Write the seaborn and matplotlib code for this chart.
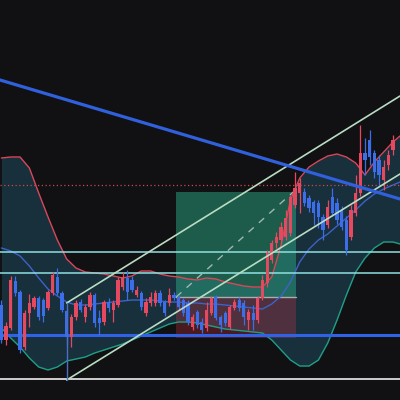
import numpy as np
import pandas as pd
import matplotlib
matplotlib.use("Agg")
import matplotlib.pyplot as plt
import seaborn as sns

# ---- candle data (price units) ----
opens = [95, 60, 72, 119, 108, 53, 87, 93, 102, 100, 92, 107, 123, 107, 89, 63, 83, 98, 83, 93,
         105, 82, 78, 98, 90, 95, 113, 122, 120, 105, 107, 87, 97, 97, 107, 98, 97, 105, 103, 100,
         97, 73, 88, 78, 72, 87, 103, 83, 87, 73, 92, 100, 97, 80, 87, 80, 102, 117, 140, 157,
         160, 163, 167, 195, 207, 208, 202, 198, 197, 183, 175, 203, 197, 190, 180, 163, 187, 207, 247, 260,
         247, 240, 220, 235, 250]
closes = [60, 74, 120, 107, 50, 87, 97, 102, 83, 84, 108, 125, 107, 90, 63, 83, 97, 90, 93, 105,
          77, 77, 98, 92, 97, 120, 123, 108, 110, 110, 93, 98, 103, 107, 97, 87, 105, 102, 93, 87,
          78, 83, 75, 70, 90, 102, 82, 75, 77, 93, 98, 92, 83, 88, 80, 102, 120, 147, 157, 163,
          173, 182, 203, 212, 217, 197, 192, 187, 183, 170, 193, 187, 180, 173, 150, 190, 207, 247, 240, 243,
          228, 225, 233, 245, 260]
highs = [100, 78, 124, 124, 110, 90, 106, 104, 104, 102, 110, 128, 132, 109, 91, 86, 100, 101, 96, 108,
         107, 90, 100, 102, 100, 123, 128, 130, 124, 114, 109, 102, 108, 110, 110, 100, 112, 108, 105, 102,
         100, 86, 90, 82, 98, 104, 105, 85, 89, 95, 101, 103, 100, 91, 95, 104, 125, 150, 160, 168,
         178, 190, 205, 228, 222, 212, 205, 200, 200, 186, 200, 212, 202, 194, 184, 195, 225, 275, 262, 270,
         250, 245, 240, 250, 265]
lows = [57, 55, 70, 104, 47, 50, 73, 91, 80, 78, 90, 105, 105, 88, 55, 53, 80, 88, 78, 90,
        73, 65, 75, 88, 78, 93, 110, 100, 108, 103, 90, 84, 94, 94, 94, 84, 94, 100, 90, 84,
        75, 70, 72, 67, 69, 85, 80, 68, 74, 71, 90, 89, 75, 70, 70, 77, 100, 113, 137, 152,
        157, 160, 164, 192, 187, 194, 188, 175, 172, 160, 172, 184, 176, 170, 145, 160, 184, 204, 225, 235,
        222, 215, 210, 230, 245]

# ---- Bollinger bands ----
band_idx = [0, 2, 4, 6, 8, 10, 12, 14, 16, 18, 20, 22, 24, 26, 28, 30, 32, 34, 36, 38, 40, 42,
            44, 46, 48, 50, 52, 54, 56, 58, 60, 62, 64, 66, 68, 70, 72, 74, 76, 78, 80, 82, 84, 85.5]
band_upper = [242, 243, 243, 232, 207, 183, 160, 141, 132, 128, 127, 126, 124, 122, 124, 129, 129, 126, 124, 123,
              121, 120, 122, 121, 118, 116, 114, 113, 113, 123, 155, 200, 222, 233, 239, 244, 246, 243, 237, 225,
              238, 248, 258, 264]
band_mid = [152, 149, 144, 134, 122, 111, 104, 98, 95, 95, 96, 97, 98, 99, 100, 100, 100, 99, 98, 98,
            97, 97, 96, 96, 95, 94, 93, 92, 91, 96, 104, 118, 138, 151, 160, 166, 174, 182, 190, 199,
            206, 211, 215, 218]
band_lower = [72, 62, 53, 42, 33, 30, 33, 39, 41, 43, 47, 50, 53, 56, 60, 64, 68, 72, 76, 78,
              78, 77, 75, 73, 71, 70, 69, 68, 67, 60, 50, 40, 34, 34, 40, 57, 80, 105, 128, 142,
              152, 158, 158, 156]

# ---- drawings ----
trend_x = [-0.3, 85.5]
trend_y = [320, 201]
chan_up_x = [14.0, 85.5]
chan_up_y = [97, 304]
chan_lo_x = [14.0, 85.5]
chan_lo_y = [20, 226]
hlines_cyan = [148, 127]
hline_blue = 65
hline_gray = 21
hline_dotted = 215
box_x = [37.5, 63.2]
box_entry = 103
box_target = 208
box_stop = 62

bg = "#111113"
up_col = "#e5485f"
dn_col = "#3b6ee8"

sns.set_theme(style="dark", rc={"axes.facecolor": bg, "figure.facecolor": bg})
fig = plt.figure(figsize=(4, 4), dpi=100)
ax = fig.add_axes([0, 0, 1, 1])
ax.set_facecolor(bg)

# band fill
ax.fill_between(band_idx, band_lower, band_upper, color="#1b3a4a", alpha=0.75, lw=0, zorder=1)
bands = pd.DataFrame({"i": band_idx, "upper": band_upper, "mid": band_mid, "lower": band_lower})
kw = dict(lw=1.0, ax=ax, zorder=3, solid_joinstyle="round")
sns.lineplot(data=bands, x="i", y="upper", color="#d9475a", **kw)
sns.lineplot(data=bands, x="i", y="mid", color="#3d62c8", **kw)
sns.lineplot(data=bands, x="i", y="lower", color="#1f9e86", **kw)

# position box
ax.fill_between(box_x, box_entry, box_target, color="#2aa884", alpha=0.5, lw=0, zorder=2)
ax.fill_between(box_x, box_stop, box_entry, color="#f23645", alpha=0.25, lw=0, zorder=2)
ax.plot(box_x, [box_entry, box_entry], color="#c9c9c9", lw=1.0, alpha=0.8, zorder=2.5)
ax.plot([box_x[0], box_x[1] - 0.6], [box_entry, box_target], color="#9fb8ae", lw=1.0,
        ls=(0, (5, 5)), zorder=2.5)

# horizontal levels
for h in hlines_cyan:
    ax.axhline(h, color="#8fe0e0", lw=1.1, zorder=4)
ax.axhline(hline_blue, color="#2f62e6", lw=2.2, zorder=4)
ax.axhline(hline_gray, color="#cfcfcf", lw=1.4, zorder=4)
ax.axhline(hline_dotted, color="#c94a4a", lw=0.9, ls=(0, (1, 2)), zorder=4)

# candles
idx = np.arange(len(opens))
o = np.array(opens); c = np.array(closes); h = np.array(highs); l = np.array(lows)
cols = np.where(c >= o, up_col, dn_col)
ax.vlines(idx, l, h, colors=cols, lw=0.9, zorder=5)
ax.bar(idx, np.abs(c - o), bottom=np.minimum(o, c), width=0.7, color=cols, lw=0, zorder=6)

# channel and trend lines
ax.plot(chan_up_x, chan_up_y, color="#b9dcc2", lw=1.2, zorder=7)
ax.plot(chan_lo_x, chan_lo_y, color="#b9dcc2", lw=1.2, zorder=7)
ax.plot([chan_lo_x[0], chan_lo_x[0]], [chan_lo_y[0], chan_up_y[0]], color="#4a6fc8", lw=1.0, zorder=7)
ax.plot(trend_x, trend_y, color="#3060dc", lw=2.3, zorder=8)

ax.set_xlim(-0.3, 85.5)
ax.set_ylim(0, 400)
ax.set_xticks([]); ax.set_yticks([])
ax.set_xlabel(""); ax.set_ylabel("")
for s in ax.spines.values():
    s.set_visible(False)
if ax.get_legend():
    ax.get_legend().remove()

fig.savefig("out.png", dpi=100, facecolor=bg)
